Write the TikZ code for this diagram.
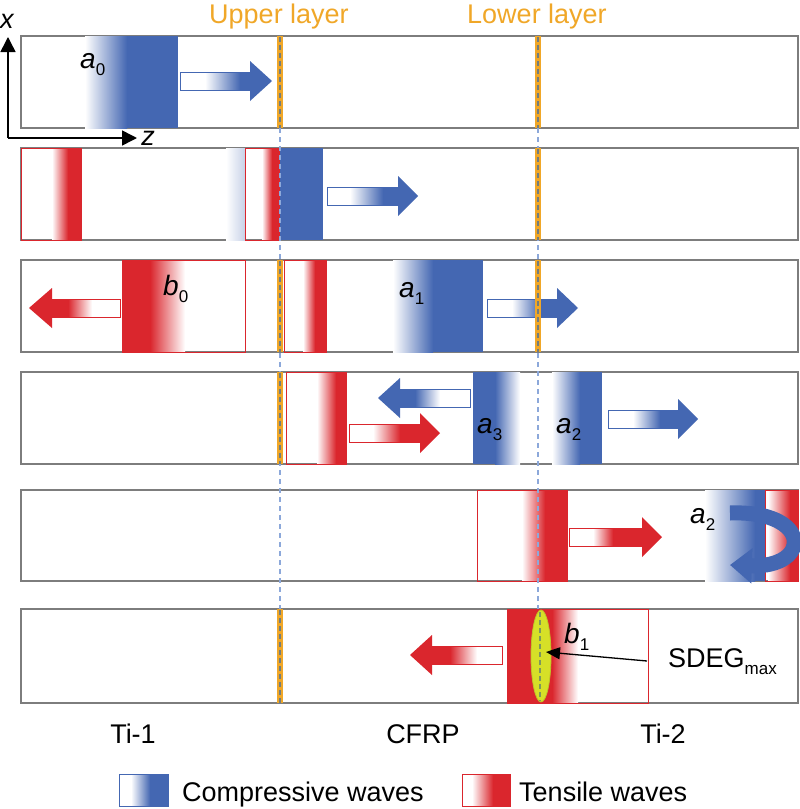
\documentclass[tikz,border=0pt]{standalone}
\usepackage{fontspec}
\setmainfont{Liberation Sans}
\usetikzlibrary{arrows.meta}
\definecolor{wblue}{RGB}{68,103,178}
\definecolor{wred}{RGB}{218,38,45}
\definecolor{lorange}{RGB}{240,167,40}
\definecolor{dgray}{RGB}{115,125,125}
\definecolor{ldblue}{RGB}{140,168,218}
\definecolor{stripgray}{RGB}{125,125,125}
\definecolor{ygreen}{RGB}{214,224,40}
\definecolor{yedge}{RGB}{190,195,40}
\definecolor{egreen}{RGB}{125,150,95}
\tikzset{
  strip/.style={draw=stripgray, line width=1.6pt, fill=white},
  wbox/.style={draw=wred, line width=1pt},
  layerline/.style={lorange, line width=5.5pt},
  layerdash/.style={dgray, line width=2pt, dash pattern=on 5pt off 3pt},
  gapdash/.style={ldblue, line width=1.8pt, dash pattern=on 5pt off 4pt},
  lbl/.style={font=\fontsize{27}{32}\selectfont, inner sep=0pt},
  wlbl/.style={font=\fontsize{28}{32}\selectfont, inner sep=0pt, anchor=base west},
  layerlbl/.style={font=\fontsize{27}{32}\selectfont, inner sep=0pt, anchor=base, text=lorange},
  axisline/.style={line width=1.5pt, -{Triangle[length=15pt,width=15pt]}},
}
\newcommand{\lowidx}[1]{\raisebox{-7pt}{\fontsize{17}{20}\selectfont #1}}
% right arrow: color, x0, xw, xb, xh, xt, yc
\newcommand{\rarrow}[7]{%
  \fill[#1] (#5,#7-20) -- (#6,#7) -- (#5,#7+20) -- cycle;
  \fill[#1] (#4,#7-9) rectangle (#5+0.5,#7+9);
  \shade[left color=white,right color=#1] (#3,#7-9) rectangle (#4,#7+9);
  \draw[#1,line width=1pt] (#5,#7-9) -- (#2,#7-9) -- (#2,#7+9) -- (#5,#7+9);
}
% left arrow: color, xt, xh, xb, xw, x1, yc
\newcommand{\larrow}[7]{%
  \fill[#1] (#3,#7-20) -- (#2,#7) -- (#3,#7+20) -- cycle;
  \fill[#1] (#3-0.5,#7-9) rectangle (#4,#7+9);
  \shade[left color=#1,right color=white] (#4,#7-9) rectangle (#5,#7+9);
  \draw[#1,line width=1pt] (#3,#7-9) -- (#6,#7-9) -- (#6,#7+9) -- (#3,#7+9);
}
% wave rising to the right: color, xw, xs, xe, ytop, ybot
\newcommand{\wup}[6]{%
  \shade[left color=white,right color=#1] (#2,#5) rectangle (#3,#6);
  \fill[#1] (#3-0.3,#5) rectangle (#4,#6);
}
% wave falling to the right: color, xs, xg, xw, ytop, ybot
\newcommand{\wdown}[6]{%
  \fill[#1] (#2,#5) rectangle (#3+0.3,#6);
  \shade[left color=#1,right color=white] (#3,#5) rectangle (#4,#6);
}
\begin{document}
\begin{tikzpicture}[x=1pt,y=-1pt]
\useasboundingbox (0,0) rectangle (800,809);
% strips
\foreach \t/\b in {36/128,148/240,260/352,372/464,490/581,609/703}
  \draw[strip] (21,\t) rectangle (798,\b);

% ---- row 1
\wup{wblue}{85}{127}{178}{36}{128}
\rarrow{wblue}{180}{205}{240}{250}{272}{81}

% ---- row 2
\shade[left color=white,right color=wblue!30] (226,148) rectangle (245,240);
\wup{wred}{52}{68}{81}{148}{240}
\draw[wbox] (21,148) rectangle (81,240);
\wup{wred}{262}{272}{280}{148}{240}
\draw[wbox] (245,148) rectangle (280,240);
\fill[wblue] (280,148) rectangle (323,240);
\rarrow{wblue}{327}{350}{383}{398}{418}{196}

% ---- row 3
\larrow{wred}{29}{52}{68}{92}{120}{308}
\wdown{wred}{122}{150}{185}{260}{352}
\draw[wbox] (122,260) rectangle (245,352);
\wup{wred}{303}{315}{326}{260}{352}
\draw[wbox] (284,260) rectangle (326,352);
\wup{wblue}{393}{433}{483}{260}{352}
\rarrow{wblue}{487}{512}{540}{557}{578}{308}

% ---- row 4
\wup{wred}{317}{336}{346}{372}{464}
\draw[wbox] (286,372) rectangle (346,464);
\larrow{wblue}{378}{400}{415}{440}{470}{398}
\rarrow{wred}{349}{373}{400}{420}{440}{433}
\wdown{wblue}{473}{495}{520}{372}{464}
\wup{wblue}{552}{580}{602}{372}{464}
\rarrow{wblue}{608}{633}{660}{678}{698}{419}

% ---- row 5
\wup{wred}{522}{545}{567}{490}{581}
\draw[wbox] (477,490) rectangle (567,581);
\rarrow{wred}{569}{593}{613}{642}{662}{537}
\wup{wblue}{705}{755}{765}{490}{581}
\wup{wred}{768}{790}{798}{490}{581}
\draw[wbox] (765,490) rectangle (798,581);
\coordinate (ustart) at (730,513);
\coordinate (uend) at (730,565);
\draw[wblue, line width=15pt, -{Triangle[length=22pt,width=34pt]}]
  (ustart) .. controls (812,510) and (812,568) .. (uend);

% ---- row 6
\larrow{wred}{410}{432}{450}{477}{502}{655}
\wdown{wred}{507}{552}{578}{609}{703}
\draw[wbox] (507,609) rectangle (648,703);

% ---- layer guides
\draw[gapdash] (280,128) -- (280,609);
\draw[gapdash] (538,128) -- (538,609);
\foreach \t/\b in {36/128,260/352,372/464,609/703}{
  \draw[layerline] (280,\t) -- (280,\b);
  \draw[layerdash] (280,\t+1) -- (280,\b);
}
\foreach \t/\b in {36/128,148/240,260/352}{
  \draw[layerline] (538,\t) -- (538,\b);
  \draw[layerdash] (538,\t+1) -- (538,\b);
}
\draw[fill=ygreen, draw=yedge, line width=0.8pt] (541,656) ellipse [x radius=10pt, y radius=46pt];
\draw[egreen, line width=1.8pt, dash pattern=on 5pt off 3pt] (540,612) -- (540,701);

% ---- axes
\coordinate (orig) at (8,138);
\coordinate (xtip) at (8,37);
\coordinate (ztip) at (137,138);
\draw[axisline] (orig) -- (xtip);
\draw[axisline] (orig) -- (ztip);
\node[lbl,font=\fontsize{27}{32}\selectfont\itshape] (xlab) at (7,21) {x};
\node[lbl,font=\fontsize{27}{32}\selectfont\itshape] (zlab) at (148,138) {z};

% ---- layer labels
\node[layerlbl] (upper) at (279,23) {Upper layer};
\node[layerlbl] (lower) at (537,23) {Lower layer};

% ---- wave labels
\node[wlbl] (a0) at (80,68) {\textit{a}\lowidx{0}};
\node[wlbl] (b0) at (163,295) {\textit{b}\lowidx{0}};
\node[wlbl] (a1) at (399,297) {\textit{a}\lowidx{1}};
\node[wlbl] (a3) at (477,433) {\textit{a}\lowidx{3}};
\node[wlbl] (a2r) at (556,433) {\textit{a}\lowidx{2}};
\node[wlbl] (a2) at (690,523) {\textit{a}\lowidx{2}};
\node[wlbl] (b1) at (564,643) {\textit{b}\lowidx{1}};

% ---- SDEG
\node[lbl,anchor=base west] (sdeg) at (668,667) {SDEG\lowidx{max}};
\coordinate (sdegfrom) at (647,661);
\coordinate (sdegto) at (546,652);
\draw[line width=1.3pt, -{Triangle[length=14pt,width=12pt]}] (sdegfrom) -- (sdegto);

% ---- material labels
\node[lbl,anchor=base] (ti1) at (133,743) {Ti-1};
\node[lbl,anchor=base] (cfrp) at (423,743) {CFRP};
\node[lbl,anchor=base] (ti2) at (663,743) {Ti-2};

% ---- legend
\wup{wblue}{131}{150}{168}{774}{806}
\draw[wblue, line width=1pt] (119,774) rectangle (168,806);
\node[lbl,anchor=base west] (lcomp) at (182,801) {Compressive waves};
\wup{wred}{472}{493}{510}{774}{806}
\draw[wbox] (462,774) rectangle (510,806);
\node[lbl,anchor=base west] (ltens) at (519,801) {Tensile waves};
\end{tikzpicture}
\end{document}
